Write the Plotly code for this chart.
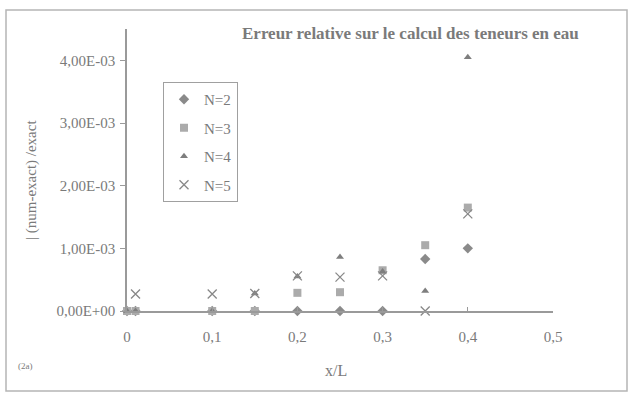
import plotly.graph_objects as go

# ---- data ----
x_n2 = [0, 0.01, 0.1, 0.15, 0.2, 0.25, 0.3, 0.35, 0.4]
y_n2 = [0, 0, 0, 0, 0, 0, 0, 0.83e-3, 1.0e-3]

x_n3 = [0, 0.01, 0.1, 0.15, 0.2, 0.25, 0.3, 0.35, 0.4]
y_n3 = [0, 0, 0, 0, 0.29e-3, 0.30e-3, 0.65e-3, 1.05e-3, 1.65e-3]

x_n4 = [0, 0.01, 0.1, 0.15, 0.2, 0.25, 0.3, 0.35, 0.4]
y_n4 = [0, 0, 0, 0.28e-3, 0.55e-3, 0.86e-3, 0.63e-3, 0.32e-3, 4.05e-3]

x_n5 = [0.01, 0.1, 0.15, 0.2, 0.25, 0.3, 0.35, 0.4]
y_n5 = [0.27e-3, 0.27e-3, 0.28e-3, 0.56e-3, 0.54e-3, 0.56e-3, 0, 1.55e-3]

series_names = ["N=2", "N=3", "N=4", "N=5"]
y_tickvals = [0, 1e-3, 2e-3, 3e-3, 4e-3]
y_ticktext = ["0,00E+00", "1,00E-03", "2,00E-03", "3,00E-03", "4,00E-03"]
x_tickvals = [0, 0.1, 0.2, 0.3, 0.4, 0.5]
x_ticktext = ["0", "0,1", "0,2", "0,3", "0,4", "0,5"]

FONT = "Liberation Serif, Times New Roman, serif"
TXT = "#7a7a7a"
AX = "#9a9a9a"

fig = go.Figure()
styles = [
    dict(symbol="diamond", size=8, color="#8a8a8a"),
    dict(symbol="square", size=8, color="#ababab"),
    dict(symbol="triangle-up", size=7, color="#7e7e7e"),
    dict(symbol="x-thin", size=9, color="#888888", line=dict(width=1.3, color="#888888")),
]
for name, xs, ys, st, g in zip(series_names, [x_n2, x_n3, x_n4, x_n5],
                               [y_n2, y_n3, y_n4, y_n5], styles, ["a", "b", "c", "d"]):
    fig.add_trace(go.Scatter(x=xs, y=ys, mode="markers", name=name, marker=st,
                             legendgroup=g, cliponaxis=False))

W, H = 631, 394
L, R, T, B = 127, 78, 29, 83
pw, ph = W - L - R, H - T - B

def px(x):
    return (x - L) / pw

def py(y):
    return (H - B - y) / ph

fig.update_layout(
    width=W, height=H,
    margin=dict(l=L, r=R, t=T, b=B),
    paper_bgcolor="white", plot_bgcolor="white",
    font=dict(family=FONT, color=TXT, size=13),
    showlegend=True,
    legend=dict(x=px(163), y=py(82), xanchor="left", yanchor="top",
                bordercolor="#a0a0a0", borderwidth=1, bgcolor="white",
                font=dict(family=FONT, size=15, color=TXT),
                tracegroupgap=6, itemwidth=30),
    xaxis=dict(range=[0, 0.5], tickvals=x_tickvals, ticktext=x_ticktext,
               showgrid=False, zeroline=False, showline=True, linecolor=AX,
               linewidth=1.5, ticks="inside", ticklen=4, tickcolor=AX,
               tickfont=dict(family=FONT, size=15, color=TXT), ticklabelstandoff=11),
    yaxis=dict(range=[0, 0.0045], tickvals=y_tickvals, ticktext=y_ticktext,
               showgrid=False, zeroline=False, showline=True, linecolor=AX,
               linewidth=1.5, ticks="outside", ticklen=5, tickcolor=AX,
               tickfont=dict(family=FONT, size=15, color=TXT), ticklabelstandoff=2),
    shapes=[dict(type="rect", xref="paper", yref="paper",
                 x0=px(6), x1=px(627), y0=py(391), y1=py(10),
                 line=dict(color="#b5b5b5", width=1.5), fillcolor="rgba(0,0,0,0)", layer="below")],
    annotations=[
        dict(text="<b>Erreur relative sur le calcul des teneurs en eau</b>", xref="paper", yref="paper",
             x=px(410), y=py(33), xanchor="center", yanchor="middle", showarrow=False,
             font=dict(family=FONT, size=17, color=TXT)),
        dict(text="| (num-exact) /exact", xref="paper", yref="paper",
             x=px(32), y=py(180), xanchor="center", yanchor="middle", showarrow=False,
             textangle=-90, font=dict(family=FONT, size=15, color=TXT)),
        dict(text="x/L", xref="paper", yref="paper",
             x=px(336), y=py(370), xanchor="center", yanchor="middle", showarrow=False,
             font=dict(family=FONT, size=16, color=TXT)),
        dict(text="(2a)", xref="paper", yref="paper",
             x=px(25), y=py(366), xanchor="center", yanchor="middle", showarrow=False,
             font=dict(family=FONT, size=9, color=TXT)),
    ],
)

fig.write_html("out.html")
